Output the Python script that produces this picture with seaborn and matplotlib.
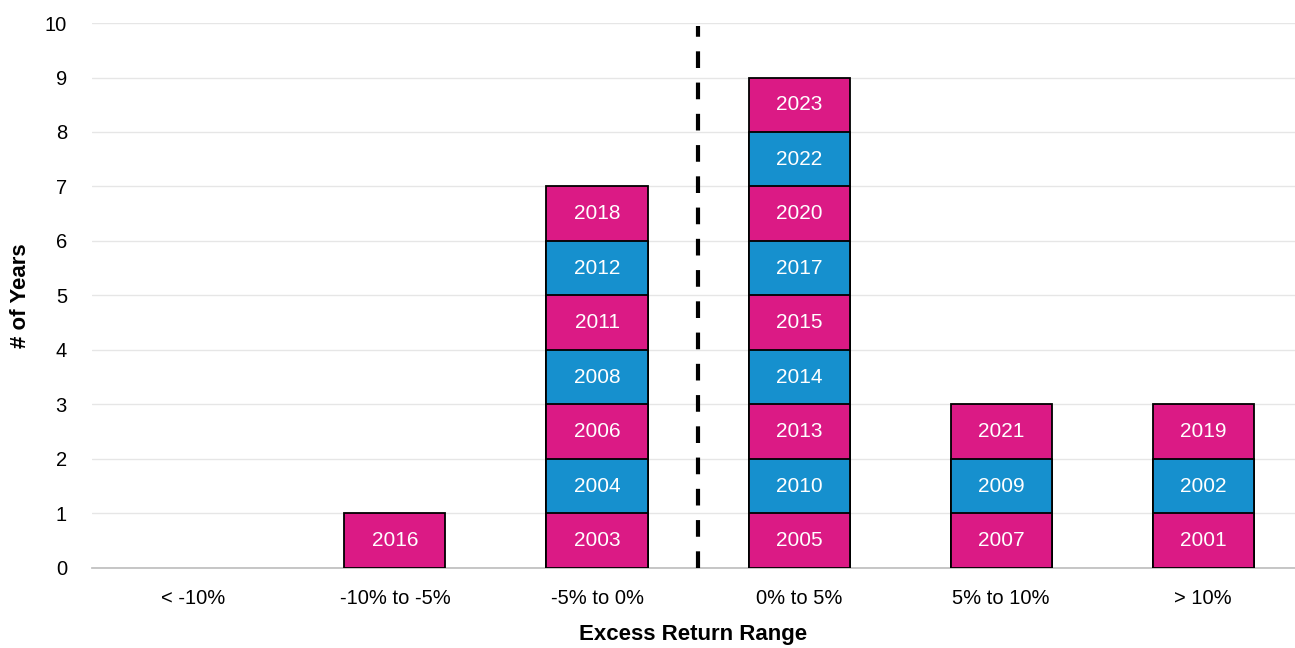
"""Histogram of yearly excess returns, stacked by year."""

import matplotlib
matplotlib.use("Agg")
import matplotlib.pyplot as plt
import pandas as pd
import seaborn as sns

CATEGORIES = ["< -10%", "-10% to -5%", "-5% to 0%", "0% to 5%", "5% to 10%", "> 10%"]
YEARS_NEG_10 = []
YEARS_NEG_10_5 = [2016]
YEARS_NEG_5_0 = [2003, 2004, 2006, 2008, 2011, 2012, 2018]
YEARS_0_5 = [2005, 2010, 2013, 2014, 2015, 2017, 2020, 2022, 2023]
YEARS_5_10 = [2007, 2009, 2021]
YEARS_10_UP = [2001, 2002, 2019]

PINK = "#DB1A85"
BLUE = "#1690CE"


def build_frame() -> pd.DataFrame:
    groups = [YEARS_NEG_10, YEARS_NEG_10_5, YEARS_NEG_5_0, YEARS_0_5, YEARS_5_10, YEARS_10_UP]
    rows = []
    for cat, years in zip(CATEGORIES, groups):
        for level, year in enumerate(years):
            rows.append({"range": cat, "year": year, "level": level, "top": level + 1})
    return pd.DataFrame(rows)


def main() -> None:
    sns.set_theme(style="white")
    plt.rcParams["font.family"] = ["Liberation Sans", "DejaVu Sans"]

    df = build_frame()
    fig = plt.figure(figsize=(12.95, 6.48), dpi=100)
    ax = fig.add_axes([0.071, 0.1235, 0.929, 0.841])

    # draw from the highest layer down so lower segments cover the taller bars
    for level in sorted(df["level"].unique(), reverse=True):
        layer = df[df["level"] == level]
        sns.barplot(
            data=layer, x="range", y="top", order=CATEGORIES,
            color=PINK if level % 2 == 0 else BLUE, saturation=1,
            width=0.5, edgecolor="black", linewidth=1.3, ax=ax, zorder=3,
        )

    for _, row in df.iterrows():
        ax.text(CATEGORIES.index(row["range"]), row["level"] + 0.5, str(row["year"]),
                ha="center", va="center", color="white", fontsize=15, zorder=4)

    ax.axvline(2.5, ymin=0, ymax=0.995, color="black", linestyle=(0, (4, 3.5)),
               linewidth=3, zorder=5)

    ax.set_ylim(0, 10)
    ax.set_xlim(-0.5, 5.455)
    ax.set_yticks(range(0, 11))
    ax.yaxis.grid(True, color="#e6e6e6", linewidth=1)
    ax.set_axisbelow(True)
    for side in ["top", "right", "left"]:
        ax.spines[side].set_visible(False)
    ax.spines["bottom"].set_color("#bfbfbf")
    ax.tick_params(axis="both", length=0, labelsize=14.5, colors="black")
    ax.tick_params(axis="x", pad=15)
    ax.tick_params(axis="y", pad=18)
    ax.set_xlabel("Excess Return Range", fontsize=16, fontweight="bold",
                  color="black", labelpad=12)
    ax.set_ylabel("# of Years", fontsize=16, fontweight="bold",
                  color="black", labelpad=10)

    fig.savefig("out.png", dpi=100)


if __name__ == "__main__":
    main()
